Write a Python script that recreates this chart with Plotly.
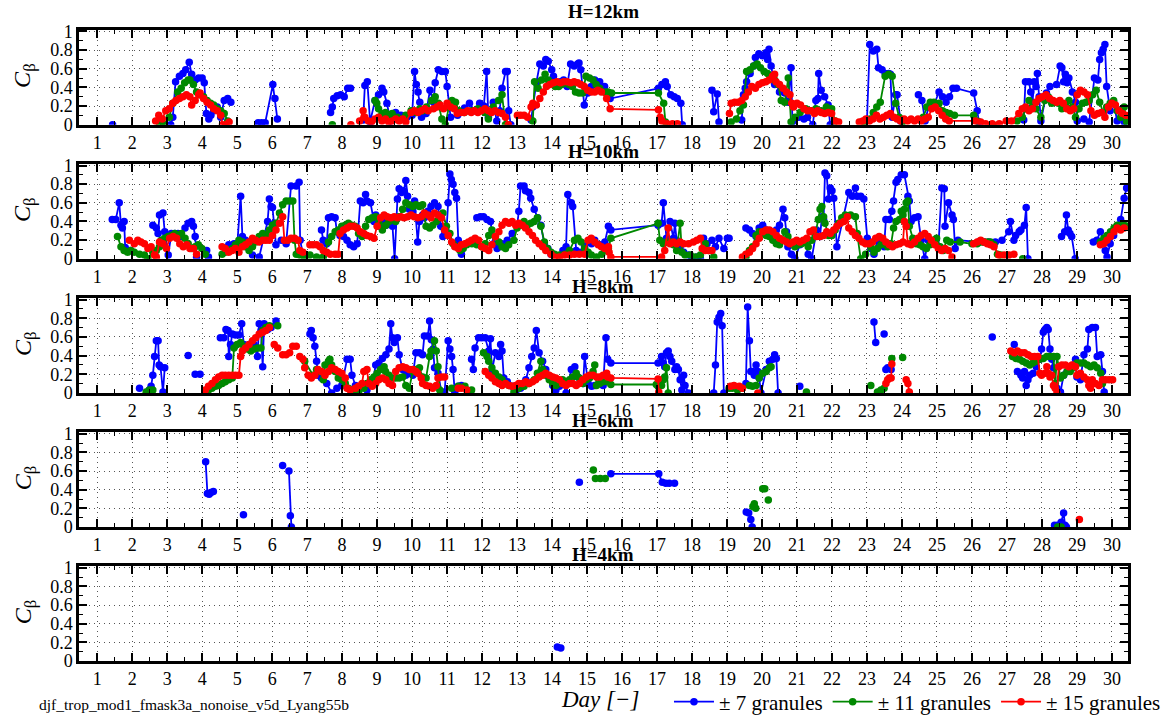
import plotly.graph_objects as go

# ---------------- data: (day, C_beta) pairs, None = break in the line ----------------
p1_blue = [(1.44,0.0), None,
 (3.1,0.0),(3.16,0.08),(3.24,0.46),(3.35,0.52),(3.45,0.55),(3.53,0.59),(3.63,0.67),(3.7,0.54),(3.8,0.48),(3.9,0.50),(4.0,0.50),(4.06,0.45),(4.12,0.12),(4.19,0.06),(4.25,0.10),(4.33,0.15),(4.43,0.19),(4.53,0.08),(4.63,0.26),(4.73,0.28),(4.82,0.24), None,
 (5.6,0.02),(5.7,0.02),(5.8,0.02),(6.02,0.43),(6.08,0.28),(6.15,0.06), None,
 (7.67,0.13),(7.72,0.19),(7.76,0.28),(7.86,0.31),(7.96,0.32),(8.06,0.30),(8.16,0.39),(8.24,0.39), None,
 (8.6,0.05),(8.65,0.42),(8.72,0.46),(8.8,0.03),(8.94,0.26),(9.04,0.32),(9.14,0.39),(9.19,0.35),(9.28,0.23),(9.38,0.04),(9.53,0.13),(9.68,0.10),(9.85,0.08),(10.0,0.1),(10.07,0.57),(10.12,0.43),(10.17,0.35),(10.22,0.24),(10.27,0.08),(10.4,0.12),(10.51,0.37),(10.61,0.24),(10.66,0.45),(10.75,0.59),(10.85,0.57),(10.95,0.57),(11.0,0.41),(11.1,0.08),(11.3,0.1),(11.5,0.18),(11.64,0.23),(11.78,0.15),(11.93,0.23),(12.05,0.2),(12.13,0.57),(12.18,0.08),(12.32,0.24),(12.42,0.04),(12.5,0.15),(12.57,0.39),(12.67,0.57),(12.72,0.57),(12.76,0.15),(12.82,0.0), None,
 (13.4,0.05),(13.45,0.19),(13.55,0.45),(13.65,0.65),(13.75,0.63),(13.82,0.70),(13.89,0.68),(13.99,0.59),(14.04,0.52),(14.14,0.45),(14.24,0.46),(14.33,0.48),(14.43,0.41),(14.53,0.65),(14.63,0.63),(14.73,0.65),(14.77,0.66),(14.82,0.59),(14.92,0.21),(15.02,0.34),(15.12,0.41),(15.22,0.48),(15.36,0.46),(15.5,0.41),(15.66,0.28),(17.04,0.39),(17.14,0.43),(17.24,0.46),(17.29,0.41),(17.39,0.32),(17.49,0.30),(17.58,0.28),(17.68,0.23),(17.72,0.0), None,
 (18.57,0.37),(18.62,0.14),(18.72,0.33),(18.77,0.03), None,
 (19.42,0.05),(19.47,0.32),(19.52,0.39),(19.56,0.46),(19.66,0.55),(19.76,0.63),(19.81,0.72),(19.91,0.76),(20.01,0.74),(20.11,0.77),(20.16,0.70),(20.2,0.81),(20.26,0.63),(20.36,0.43),(20.4,0.45),(20.5,0.35),(20.65,0.34),(20.75,0.24),(20.83,0.61),(20.87,0.03),(21.05,0.08),(21.2,0.06),(21.3,0.08),(21.45,0.0),(21.54,0.26),(21.6,0.28),(21.62,0.55),(21.69,0.37),(21.79,0.30),(21.89,0.21),(21.95,0.0), None,
 (23.0,0.05),(23.08,0.86),(23.18,0.79),(23.28,0.81),(23.33,0.61),(23.43,0.59),(23.52,0.55),(23.62,0.55),(23.67,0.54),(23.72,0.08),(23.82,0.32),(23.86,0.32),(23.96,0.04), None,
 (24.47,0.32),(24.57,0.26),(24.66,0.04),(24.76,0.19),(24.91,0.21),(25.06,0.35),(25.16,0.30),(25.26,0.24),(25.36,0.30),(25.46,0.39),(25.56,0.39),(26.05,0.34),(26.15,0.15),(26.2,0.03), None,
 (27.48,0.05),(27.53,0.46),(27.63,0.46),(27.68,0.35),(27.73,0.24),(27.78,0.46),(27.83,0.41),(27.87,0.55),(27.92,0.30),(27.97,0.04),(28.13,0.34),(28.23,0.41),(28.42,0.43),(28.52,0.63),(28.57,0.61),(28.62,0.46),(28.67,0.54),(28.72,0.45),(28.77,0.50),(28.87,0.35),(28.96,0.24),(29.01,0.04),(29.2,0.06),(29.35,0.03),(29.5,0.50),(29.6,0.48),(29.65,0.70),(29.7,0.77),(29.75,0.81),(29.8,0.86),(29.85,0.41),(29.95,0.15),(30.05,0.24),(30.15,0.04),(30.25,0.15),(30.35,0.03)]

p1_green = [
 (2.76,0.03),(2.9,0.0),(3.06,0.08),(3.16,0.23),(3.3,0.35),(3.4,0.39),(3.5,0.45),(3.6,0.48),(3.65,0.48),(3.75,0.43),(3.84,0.35),(3.94,0.32),(4.04,0.30),(4.14,0.26),(4.24,0.23),(4.33,0.21),(4.43,0.17),(4.53,0.15),(4.63,0.12),(4.73,0.04), None,
 (7.72,0.0), None,
 (8.94,0.26),(8.99,0.23),(9.04,0.17),(9.14,0.12),(9.24,0.13),(9.33,0.10),(9.43,0.12),(9.58,0.08),(9.73,0.06),(9.82,0.10),(9.97,0.15),(10.12,0.13),(10.22,0.17),(10.31,0.15),(10.41,0.19),(10.56,0.26),(10.66,0.30),(10.75,0.23),(10.85,0.06),(10.95,0.0),(11.05,0.19),(11.14,0.26),(11.24,0.24),(11.34,0.15),(11.49,0.13),(11.69,0.15),(11.88,0.17),(12.08,0.13),(12.18,0.06),(12.32,0.19),(12.47,0.26),(12.57,0.32),(12.67,0.0), None,
 (13.45,0.04),(13.5,0.46),(13.6,0.39),(13.7,0.48),(13.8,0.54),(13.89,0.48),(13.99,0.45),(14.09,0.41),(14.19,0.41),(14.28,0.43),(14.38,0.45),(14.48,0.43),(14.58,0.41),(14.67,0.35),(14.77,0.34),(14.87,0.34),(14.97,0.52),(15.07,0.50),(15.17,0.48),(15.26,0.43),(15.36,0.39),(15.5,0.35),(15.6,0.35),(15.7,0.34),(17.04,0.34),(17.19,0.23),(17.24,0.03), None,
 (19.12,0.03),(19.27,0.06),(19.37,0.15),(19.47,0.21),(19.56,0.57),(19.66,0.59),(19.76,0.63),(19.86,0.65),(19.96,0.61),(20.06,0.57),(20.16,0.55),(20.26,0.52),(20.36,0.48),(20.46,0.43),(20.55,0.26),(20.65,0.24),(20.75,0.50),(20.83,0.03),(20.95,0.08),(21.09,0.13),(21.25,0.17),(21.4,0.15),(21.54,0.17),(21.69,0.15),(21.84,0.19),(21.99,0.17),(22.09,0.04), None,
 (22.93,0.03),(23.08,0.06),(23.18,0.13),(23.28,0.19),(23.38,0.24),(23.52,0.52),(23.62,0.54),(23.72,0.52),(23.82,0.23),(23.92,0.08),(24.02,0.03), None,
 (24.61,0.08),(24.71,0.19),(24.81,0.24),(24.91,0.24),(25.06,0.23),(25.16,0.15),(25.26,0.13),(25.36,0.12),(25.5,0.10),(26.05,0.10),(26.15,0.04), None,
 (26.6,0.0), None,
 (27.29,0.04),(27.44,0.08),(27.53,0.17),(27.63,0.26),(27.73,0.19),(27.83,0.17),(27.97,0.08),(28.08,0.26),(28.18,0.30),(28.28,0.23),(28.37,0.24),(28.47,0.23),(28.57,0.17),(28.67,0.21),(28.77,0.26),(28.87,0.19),(28.96,0.08),(29.06,0.17),(29.16,0.23),(29.26,0.24),(29.35,0.26),(29.45,0.32),(29.55,0.37),(29.65,0.24),(29.75,0.13),(29.85,0.19),(29.95,0.23),(30.05,0.26),(30.15,0.15),(30.25,0.08),(30.35,0.19),(30.42,0.03)]

p1_red = [
 (2.67,0.04),(2.76,0.10),(2.86,0.06),(2.96,0.15),(3.06,0.17),(3.16,0.23),(3.25,0.26),(3.35,0.28),(3.45,0.30),(3.55,0.32),(3.65,0.30),(3.7,0.21),(3.8,0.26),(3.9,0.32),(3.94,0.34),(4.04,0.28),(4.14,0.24),(4.24,0.21),(4.33,0.17),(4.43,0.15),(4.53,0.10),(4.58,0.0),(4.68,0.0),(4.77,0.03), None,
 (8.25,0.0), None,
 (8.5,0.04),(8.6,0.15),(8.65,0.08),(8.75,0.04),(8.84,0.03),(8.94,0.06),(9.04,0.08),(9.14,0.04),(9.24,0.06),(9.33,0.03),(9.43,0.04),(9.53,0.06),(9.63,0.04),(9.73,0.06),(9.82,0.03),(9.97,0.13),(10.07,0.15),(10.17,0.13),(10.26,0.15),(10.36,0.17),(10.46,0.15),(10.61,0.17),(10.71,0.19),(10.8,0.21),(10.9,0.17),(11.0,0.23),(11.1,0.19),(11.2,0.17),(11.29,0.12),(11.39,0.13),(11.49,0.13),(11.59,0.15),(11.69,0.13),(11.78,0.15),(11.88,0.13),(11.98,0.15),(12.08,0.17),(12.18,0.15),(12.27,0.13),(12.37,0.15),(12.47,0.13),(12.57,0.12),(12.67,0.08),(12.75,0.0), None,
 (13.01,0.10),(13.1,0.10),(13.2,0.10),(13.3,0.08),(13.4,0.19),(13.45,0.23),(13.55,0.21),(13.65,0.28),(13.75,0.35),(13.84,0.41),(13.94,0.43),(14.04,0.45),(14.14,0.46),(14.24,0.45),(14.33,0.46),(14.43,0.46),(14.53,0.45),(14.63,0.46),(14.73,0.45),(14.82,0.43),(14.92,0.41),(15.02,0.37),(15.12,0.35),(15.22,0.35),(15.31,0.37),(15.41,0.35),(15.56,0.28),(15.66,0.17),(17.04,0.16),(17.09,0.08),(17.14,0.04),(17.29,0.01),(17.44,0.01),(17.58,0.01), None,
 (19.07,0.12),(19.12,0.23),(19.22,0.24),(19.32,0.24),(19.42,0.26),(19.52,0.30),(19.61,0.35),(19.71,0.41),(19.81,0.39),(19.91,0.43),(20.01,0.45),(20.11,0.46),(20.2,0.48),(20.3,0.52),(20.36,0.54),(20.4,0.46),(20.5,0.43),(20.6,0.39),(20.7,0.35),(20.8,0.32),(20.85,0.23),(20.9,0.19),(21.0,0.23),(21.1,0.21),(21.2,0.17),(21.3,0.15),(21.4,0.15),(21.5,0.12),(21.59,0.15),(21.69,0.13),(21.79,0.12),(21.89,0.13),(21.99,0.12),(22.09,0.04),(22.19,0.03), None,
 (22.78,0.03),(22.88,0.04),(22.97,0.06),(23.07,0.04),(23.17,0.06),(23.27,0.10),(23.37,0.06),(23.47,0.08),(23.57,0.10),(23.67,0.12),(23.77,0.08),(23.86,0.06),(23.96,0.04),(24.06,0.06),(24.16,0.04),(24.26,0.06),(24.36,0.04),(24.46,0.06),(24.55,0.04),(24.65,0.06),(24.75,0.08),(24.85,0.17),(24.95,0.19),(25.05,0.15),(25.15,0.10),(25.25,0.06),(25.35,0.04),(26.1,0.04),(26.25,0.03),(26.39,0.01),(26.58,0.01),(26.78,0.01),(26.98,0.04),(27.13,0.04),
 (27.34,0.12),(27.44,0.17),(27.53,0.19),(27.63,0.15),(27.73,0.17),(27.83,0.24),(27.92,0.28),(28.02,0.30),(28.12,0.32),(28.22,0.28),(28.32,0.26),(28.42,0.24),(28.51,0.26),(28.61,0.23),(28.71,0.17),(28.81,0.15),(28.91,0.17),(29.01,0.32),(29.1,0.37),(29.2,0.35),(29.3,0.32),(29.4,0.15),(29.5,0.10),(29.6,0.12),(29.7,0.13),(29.8,0.08),(29.9,0.19),(30.0,0.23),(30.1,0.21),(30.2,0.15),(30.3,0.12),(30.4,0.10)]

p2_blue = [
 (1.43,0.42),(1.53,0.42),(1.63,0.60),(1.68,0.36),(1.72,0.33),(1.77,0.40),(1.8,0.12),(1.9,0.09),(1.96,0.09), None,
 (2.59,0.36),(2.69,0.33),(2.74,0.27),(2.78,0.47),(2.88,0.49),(2.93,0.29),(3.03,0.04),(3.12,0.27),(3.22,0.27),(3.31,0.27),(3.41,0.24),(3.51,0.33),(3.6,0.38),(3.7,0.40),(3.75,0.35),(3.8,0.24),(3.84,0.02), None,
 (4.13,0.09),(4.18,0.02), None,
 (4.76,0.15),(4.91,0.16),(5.0,0.13),(5.1,0.67),(5.15,0.24),(5.24,0.2),(5.34,0.13),(5.44,0.04),(5.63,0.02),(5.77,0.25),(5.87,0.40),(5.92,0.64),(5.97,0.56),(6.01,0.55),(6.06,0.38),(6.11,0.15),(6.26,0.2),(6.4,0.16),(6.54,0.78),(6.69,0.78),(6.77,0.82),(6.8,0.2),(6.88,0.05), None,
 (7.41,0.31),(7.46,0.2),(7.56,0.16),(7.61,0.44),(7.7,0.45),(7.8,0.44),(7.85,0.29),(7.94,0.25),(8.04,0.24),(8.14,0.2),(8.23,0.15),(8.33,0.13),(8.43,0.16),(8.52,0.62),(8.6,0.60),(8.67,0.69),(8.71,0.62),(8.81,0.60),(8.91,0.40),(8.96,0.47),(9.05,0.35),(9.15,0.40),(9.25,0.36),(9.34,0.42),(9.44,0.35),(9.5,0.0),(9.58,0.64),(9.63,0.75),(9.7,0.71),(9.76,0.73),(9.82,0.84),(9.87,0.67),(9.92,0.53),(10.02,0.51),(10.07,0.62),(10.16,0.18),(10.21,0.40),(10.3,0.47),(10.35,0.44),(10.45,0.51),(10.54,0.56),(10.64,0.60),(10.74,0.56),(10.82,0.35),(10.88,0.24),(10.98,0.29),(11.03,0.60),(11.08,0.91),(11.12,0.85),(11.17,0.80),(11.22,0.71),(11.27,0.65),(11.32,0.2),(11.41,0.05), None,
 (11.85,0.44),(11.95,0.45),(12.04,0.45),(12.14,0.42),(12.24,0.40),(12.33,0.16),(12.43,0.11),(12.57,0.16),(12.72,0.2),(12.86,0.27),(13.0,0.35),(13.05,0.51),(13.1,0.78),(13.2,0.78),(13.24,0.73),(13.34,0.71),(13.39,0.65),(13.49,0.53),(13.59,0.44),(13.68,0.36),(13.78,0.16),(13.88,0.11),(13.97,0.05), None,
 (14.31,0.09),(14.4,0.13),(14.45,0.69),(14.55,0.60),(14.59,0.56),(14.69,0.09),(14.84,0.07),(14.93,0.13),(15.03,0.18),(15.13,0.16),(15.22,0.2),(15.37,0.15),(15.51,0.18),(15.61,0.35),(15.68,0.31),(17.03,0.36),(17.13,0.38),(17.18,0.60),(17.27,0.22),(17.37,0.40),(17.47,0.22),(17.51,0.38),(17.56,0.20),(17.66,0.13),(17.76,0.07),(17.9,0.04),(18.0,0.0),(18.14,0.02),(18.24,0.0),(18.33,0.22),(18.43,0.16),(18.57,0.2),(18.67,0.13),(18.77,0.22),(18.91,0.11),(19.01,0.22),(19.06,0.22), None,
 (19.54,0.33),(19.64,0.31),(19.73,0.27),(19.83,0.24),(19.92,0.33),(20.02,0.36),(20.12,0.31),(20.21,0.25),(20.31,0.27),(20.41,0.31),(20.5,0.36),(20.6,0.53),(20.65,0.44),(20.7,0.29),(20.74,0.13),(20.84,0.05),(20.94,0.0),(21.08,0.15),(21.23,0.18),(21.32,0.05),(21.42,0.0),(21.56,0.31),(21.66,0.24),(21.71,0.45),(21.76,0.42),(21.8,0.92),(21.85,0.89),(21.9,0.64),(21.95,0.76),(22.0,0.73),(22.05,0.65),(22.14,0.13),
 (22.48,0.71),(22.58,0.67),(22.67,0.76),(22.72,0.67),(22.82,0.67),(22.91,0.64),(23.01,0.22),(23.11,0.11),(23.2,0.05),(23.3,0.2),(23.4,0.16),(23.49,0.13),(23.54,0.42),(23.64,0.42),(23.71,0.51),(23.76,0.62),(23.83,0.82),(23.88,0.85),(23.98,0.90),(24.07,0.90),(24.17,0.67),(24.21,0.62),(24.26,0.40),(24.36,0.44),(24.46,0.45),(24.55,0.2),(24.65,0.0),(24.75,0.2),(24.89,0.18),(25.04,0.13),(25.14,0.76),(25.21,0.75),(25.23,0.35),(25.33,0.60),(25.43,0.47),(25.47,0.42),(25.52,0.11),
 (25.6,0.2),(26.19,0.18),(26.34,0.18),(26.48,0.18),(26.67,0.18),(26.86,0.2),(27.05,0.29),(27.1,0.40),(27.2,0.2),(27.25,0.25),(27.35,0.29),(27.4,0.31),(27.5,0.36),(27.55,0.55),(27.6,0.0), None,
 (28.56,0.24),(28.65,0.29),(28.7,0.47),(28.75,0.31),(28.8,0.27),(28.85,0.24),(28.95,0.0), None,
 (29.47,0.18),(29.57,0.2),(29.67,0.29),(29.77,0.2),(29.81,0.09),(29.86,0.02),(29.95,0.16),(30.05,0.25),(30.15,0.33),(30.25,0.42),(30.35,0.65),(30.42,0.76)]

p2_green = [
 (1.58,0.24),(1.68,0.13),(1.77,0.09),(1.87,0.07),(1.96,0.09),(2.06,0.07),(2.21,0.05),(2.35,0.04),(2.45,0.0),(2.59,0.07),(2.69,0.09),(2.78,0.13),(2.83,0.2),(2.93,0.22),(3.03,0.24),(3.12,0.25),(3.22,0.27),(3.31,0.24),(3.41,0.27),(3.51,0.22),(3.6,0.16),(3.7,0.11),(3.8,0.13),(3.89,0.15),(3.99,0.11),(4.09,0.05), None,
 (4.57,0.05),(4.66,0.07),(4.76,0.09),(4.86,0.11),(4.95,0.15),(5.05,0.2),(5.15,0.18),(5.24,0.13),(5.34,0.09),(5.44,0.13),(5.53,0.18),(5.63,0.24),(5.73,0.27),(5.82,0.25),(5.92,0.31),(6.01,0.36),(6.11,0.38),(6.21,0.49),(6.3,0.58),(6.4,0.62),(6.5,0.62),(6.59,0.62),(6.64,0.2),(6.69,0.05),(6.79,0.04),(6.93,0.02),(7.08,0.04),(7.27,0.02),(7.46,0.02),(7.61,0.18),(7.7,0.24),(7.8,0.29),(7.89,0.31),(7.99,0.35),(8.09,0.36),(8.18,0.38),(8.28,0.36),(8.37,0.35),(8.47,0.27),(8.57,0.24),(8.67,0.35),(8.76,0.42),(8.86,0.44),(8.96,0.45),(9.05,0.38),(9.15,0.31),(9.25,0.36),(9.34,0.40),(9.44,0.42),(9.53,0.40),(9.63,0.45),(9.73,0.53),(9.82,0.60),(9.92,0.58),(10.02,0.56),(10.11,0.58),(10.21,0.56),(10.3,0.58),(10.4,0.35),(10.5,0.33),(10.59,0.36),(10.69,0.40),(10.79,0.44),(10.88,0.49),(10.98,0.35),(11.08,0.27),(11.17,0.16),(11.27,0.13),(11.37,0.09),(11.46,0.11),(11.56,0.15),(11.71,0.16),(11.85,0.15),(11.99,0.13),(12.09,0.16),(12.19,0.25),(12.28,0.31),(12.38,0.24),(12.48,0.18),(12.57,0.13),(12.67,0.11),(12.76,0.15),(12.91,0.2),(13.0,0.33),(13.1,0.36),(13.2,0.40),(13.29,0.36),(13.39,0.38),(13.49,0.40),(13.58,0.44),(13.68,0.35),(13.78,0.18),(13.87,0.11),(13.97,0.07),(14.07,0.05),(14.21,0.04),(14.36,0.05),(14.5,0.09),(14.64,0.2),(14.74,0.22),(14.83,0.18),(14.93,0.11),(15.03,0.07),(15.12,0.04),(15.27,0.02),(15.42,0.05),(15.51,0.09),(15.61,0.11),(15.68,0.22),(17.03,0.38),(17.08,0.2),(17.18,0.16),(17.27,0.18),(17.37,0.18),(17.47,0.15),(17.56,0.09),(17.66,0.38),(17.71,0.07),(17.8,0.04),(17.95,0.04),(18.09,0.02),(18.24,0.04),(18.38,0.16),(18.48,0.09),(18.62,0.02), None,
 (19.54,0.02),(19.64,0.09),(19.73,0.13),(19.83,0.25),(19.92,0.29),(20.02,0.27),(20.12,0.25),(20.21,0.24),(20.31,0.2),(20.41,0.16),(20.5,0.15),(20.65,0.29),(20.74,0.24),(20.84,0.16),(20.94,0.13),(21.03,0.15),(21.13,0.16),(21.23,0.18),(21.32,0.13),(21.42,0.2),(21.52,0.25),(21.61,0.42),(21.66,0.53),(21.71,0.56),(21.76,0.45),(21.8,0.38),(21.9,0.25),(22.0,0.25),(22.09,0.31),(22.19,0.38),(22.28,0.44),(22.38,0.47),(22.53,0.47),(22.67,0.45),(22.72,0.27),(22.82,0.0),(22.96,0.05),(23.11,0.13),(23.2,0.07),(23.3,0.11),(23.4,0.15),(23.49,0.16),(23.59,0.13),(23.69,0.16),(23.76,0.33),(23.83,0.40),(23.93,0.42),(23.98,0.51),(24.03,0.47),(24.07,0.53),(24.12,0.60),(24.17,0.62),(24.21,0.35),(24.31,0.22),(24.41,0.16),(24.51,0.15),(24.6,0.13),(24.7,0.11),(24.8,0.15),(24.89,0.2),(24.99,0.22),(25.09,0.13),(25.18,0.09),(25.28,0.2),(25.38,0.18),(25.66,0.18),(26.0,0.16),(26.15,0.16),(26.25,0.18),(26.34,0.18),(26.44,0.18),(26.53,0.18),(26.63,0.15),(26.73,0.05),(26.82,0.04), None,
 (27.45,0.0), None,
 (29.67,0.18),(29.77,0.22),(29.86,0.25),(29.96,0.29),(30.06,0.33),(30.15,0.36),(30.25,0.36),(30.35,0.36),(30.42,0.35)]

p2_red = [
 (1.92,0.2),(2.06,0.16),(2.16,0.2),(2.25,0.18),(2.35,0.16),(2.45,0.11),(2.54,0.13),(2.64,0.04),(2.69,0.02),(2.78,0.18),(2.88,0.16),(2.98,0.11),(3.07,0.22),(3.17,0.24),(3.27,0.22),(3.36,0.16),(3.46,0.13),(3.56,0.15),(3.65,0.11),(3.75,0.11),(3.84,0.05), None,
 (4.57,0.13),(4.66,0.11),(4.76,0.07),(4.86,0.09),(4.95,0.11),(5.05,0.07),(5.15,0.13),(5.24,0.15),(5.34,0.18),(5.44,0.22),(5.53,0.2),(5.63,0.18),(5.73,0.2),(5.82,0.2),(5.92,0.2),(6.01,0.25),(6.11,0.31),(6.21,0.38),(6.3,0.45),(6.35,0.2),(6.45,0.2),(6.54,0.22),(6.64,0.22),(6.74,0.2),(6.79,0.09),(6.88,0.07), None,
 (7.08,0.15),(7.17,0.15),(7.27,0.15),(7.37,0.13),(7.46,0.09),(7.56,0.07),(7.66,0.05),(7.8,0.05),(7.89,0.05),(7.94,0.27),(8.04,0.31),(8.14,0.33),(8.23,0.35),(8.33,0.35),(8.43,0.33),(8.52,0.29),(8.62,0.27),(8.71,0.25),(8.81,0.24),(8.91,0.22),(9.0,0.35),(9.1,0.44),(9.2,0.47),(9.29,0.45),(9.39,0.44),(9.49,0.45),(9.58,0.44),(9.68,0.45),(9.77,0.44),(9.87,0.45),(9.97,0.47),(10.06,0.45),(10.16,0.44),(10.26,0.45),(10.35,0.49),(10.45,0.47),(10.54,0.44),(10.64,0.49),(10.74,0.47),(10.84,0.44),(10.93,0.31),(11.03,0.25),(11.13,0.18),(11.22,0.13),(11.32,0.11),(11.41,0.15),(11.51,0.16),(11.61,0.18),(11.7,0.2),(11.8,0.22),(11.9,0.2),(11.99,0.13),(12.09,0.11),(12.19,0.09),(12.28,0.15),(12.38,0.24),(12.48,0.29),(12.57,0.36),(12.67,0.40),(12.77,0.38),(12.86,0.40),(12.96,0.36),(13.05,0.38),(13.15,0.36),(13.24,0.33),(13.34,0.29),(13.44,0.25),(13.53,0.2),(13.63,0.16),(13.73,0.13),(13.82,0.09),(13.97,0.05),(14.07,0.02),(14.21,0.02),(14.36,0.04),(14.5,0.04),(14.64,0.05),(14.78,0.05),(14.93,0.05),(15.03,0.2),(15.12,0.22),(15.22,0.18),(15.32,0.15),(15.41,0.13),(15.51,0.11),(15.61,0.13),(15.63,0.07),(15.68,0.02),(17.13,0.02),(17.22,0.09),(17.32,0.33),(17.37,0.16),(17.47,0.18),(17.56,0.16),(17.66,0.18),(17.76,0.16),(17.9,0.16),(18.04,0.18),(18.14,0.2),(18.24,0.22),(18.29,0.11),(18.38,0.09),(18.48,0.09),(18.57,0.09), None,
 (19.44,0.02),(19.54,0.05),(19.64,0.07),(19.73,0.11),(19.83,0.16),(19.92,0.22),(20.02,0.29),(20.12,0.31),(20.21,0.31),(20.31,0.29),(20.41,0.25),(20.5,0.22),(20.6,0.2),(20.7,0.18),(20.79,0.16),(20.89,0.18),(20.99,0.2),(21.08,0.18),(21.18,0.2),(21.28,0.22),(21.37,0.29),(21.47,0.31),(21.56,0.24),(21.66,0.24),(21.76,0.25),(21.85,0.29),(21.95,0.27),(22.05,0.31),(22.14,0.35),(22.24,0.38),(22.34,0.40),(22.44,0.45),(22.48,0.33),(22.58,0.29),(22.67,0.25),(22.77,0.22),(22.87,0.18),(22.96,0.16),(23.06,0.16),(23.16,0.18),(23.25,0.22),(23.35,0.24),(23.45,0.22),(23.54,0.18),(23.64,0.15),(23.73,0.13),(23.83,0.15),(23.93,0.16),(24.03,0.18),(24.07,0.40),(24.12,0.35),(24.17,0.16),(24.26,0.15),(24.36,0.18),(24.46,0.22),(24.55,0.25),(24.65,0.27),(24.75,0.24),(24.84,0.2),(24.94,0.15),(25.04,0.11),(25.13,0.09),(25.23,0.11),(25.33,0.09),(25.43,0.02), None,
 (26.05,0.16),(26.15,0.18),(26.25,0.2),(26.34,0.18),(26.44,0.16),(26.53,0.15),(26.63,0.13),(26.77,0.04),(26.92,0.04),(27.06,0.04),(27.2,0.05), None,
 (29.67,0.15),(29.77,0.16),(29.86,0.2),(29.96,0.24),(30.06,0.29),(30.15,0.33),(30.25,0.31),(30.35,0.33)]

p3_blue = [(2.21,0.05), None,
 (2.49,0.03),(2.54,0.07),(2.59,0.19),(2.64,0.39),(2.69,0.56),(2.74,0.56),(2.77,0.30),(2.81,0.28),(2.88,0.01),(2.93,0.27), None,
 (3.6,0.40), None, (3.8,0.20),(3.94,0.20), None,
 (4.52,0.59),(4.62,0.59),(4.68,0.68),(4.74,0.67),(4.76,0.39),(4.81,0.52),(4.86,0.63),(4.95,0.62),(5.05,0.62),(5.13,0.74),(5.19,0.52),(5.24,0.48),(5.34,0.52),(5.44,0.54),(5.48,0.52),(5.58,0.39),(5.63,0.74),(5.68,0.67),(5.73,0.28),(5.77,0.74),(5.87,0.68),(5.97,0.70),(6.11,0.77), None,
 (7.08,0.63),(7.12,0.67),(7.17,0.59),(7.22,0.50),(7.27,0.34),(7.31,0.19),(7.41,0.16),(7.56,0.10),(7.7,0.0),(7.85,0.05),(7.99,0.08),(8.14,0.36),(8.23,0.36),(8.28,0.19),(8.38,0.08),(8.52,0.05),(8.71,0.03),(8.86,0.08),(8.96,0.30),(9.05,0.32),(9.15,0.37),(9.25,0.41),(9.34,0.47),(9.39,0.74),(9.44,0.59),(9.49,0.54),(9.58,0.59),(9.63,0.41),(9.73,0.25),(9.82,0.19),(9.92,0.21),(10.02,0.19),(10.11,0.43),(10.21,0.43),(10.3,0.41),(10.35,0.61),(10.45,0.61),(10.5,0.77),(10.55,0.57),(10.6,0.47),(10.64,0.27),(10.74,0.21),(10.84,0.01),(10.93,0.01),(11.03,0.56),(11.08,0.47),(11.13,0.39),(11.17,0.25),(11.22,0.01),(11.32,0.07),(11.41,0.08), None,
 (11.7,0.36),(11.75,0.25),(11.8,0.48),(11.9,0.59),(11.99,0.59),(12.09,0.59),(12.19,0.45),(12.24,0.58),(12.28,0.23),(12.38,0.43),(12.48,0.39),(12.53,0.52),(12.57,0.45),(12.62,0.16),(12.72,0.12),(12.86,0.07),(12.96,0.01),(13.1,0.05),(13.25,0.14),(13.34,0.27),(13.42,0.39),(13.49,0.48),(13.55,0.67),(13.63,0.43),(13.73,0.34),(13.82,0.25),(13.92,0.16),(14.02,0.08),(14.11,0.03),(14.21,0.07),(14.3,0.12),(14.4,0.0),(14.55,0.25),(14.65,0.28),(14.74,0.17),(14.89,0.10),(14.93,0.39),(15.03,0.10),(15.13,0.07),(15.22,0.08),(15.37,0.10),(15.46,0.08),(15.54,0.59),(15.59,0.36),(15.68,0.32),(17.03,0.32),(17.13,0.39),(17.18,0.32),(17.22,0.28),(17.27,0.43),(17.32,0.45),(17.37,0.39),(17.42,0.34),(17.51,0.25),(17.56,0.28),(17.61,0.25),(17.66,0.14),(17.71,0.03),(17.76,0.19),(17.8,0.08),(17.9,0.0), None,
 (18.62,0.0),(18.67,0.30),(18.72,0.76),(18.77,0.81),(18.82,0.85),(18.86,0.72),(18.91,0.0), None,
 (19.54,0.1),(19.59,0.92),(19.64,0.56),(19.68,0.23),(19.73,0.23),(19.78,0.19),(19.83,0.30),(19.88,0.23),(19.92,0.16),(19.97,0.0),(20.12,0.25),(20.21,0.34),(20.31,0.36),(20.36,0.41),(20.41,0.37),(20.46,0.0), None,
 (21.08,0.07), None, (23.2,0.76),(23.25,0.54), None, (23.49,0.63), None,
 (23.54,0.25),(23.59,0.27),(23.69,0.25), None, (26.58,0.60), None, (27.21,0.52), None,
 (27.3,0.23),(27.4,0.19),(27.45,0.16),(27.5,0.23),(27.55,0.08),(27.6,0.14),(27.65,0.19),(27.75,0.21),(27.84,0.28),(27.94,0.36),(27.99,0.47),(28.04,0.65),(28.09,0.68),(28.14,0.70),(28.18,0.68),(28.23,0.47),(28.28,0.36),(28.33,0.27),(28.43,0.05),(28.53,0.01),(28.62,0.19),(28.72,0.23),(28.81,0.27),(28.91,0.30),(28.96,0.36),(29.0,0.17),(29.1,0.14),(29.2,0.41),(29.3,0.47),(29.34,0.68),(29.44,0.70),(29.53,0.70),(29.58,0.39),(29.68,0.41),(29.73,0.23),(29.78,0.01)]

p3_green = [
 (2.4,0.01),(2.49,0.03),(2.59,0.03), None,
 (4.09,0.01),(4.18,0.03),(4.28,0.05),(4.38,0.07),(4.47,0.08),(4.57,0.10),(4.66,0.12),(4.76,0.14),(4.86,0.16),(4.91,0.48),(5.0,0.52),(5.1,0.54),(5.19,0.50),(5.29,0.47),(5.39,0.45),(5.48,0.47),(5.58,0.48),(5.68,0.48),(5.73,0.67),(5.82,0.70),(5.92,0.72),(6.16,0.72), None,
 (6.93,0.34),(7.17,0.19),(7.27,0.25),(7.36,0.23),(7.46,0.14),(7.51,0.30),(7.61,0.34),(7.65,0.36),(7.7,0.30),(7.8,0.23),(7.89,0.16),(7.99,0.14),(8.09,0.10),(8.18,0.05),(8.33,0.03),(8.47,0.01),(8.62,0.05),(8.71,0.10),(8.81,0.14),(8.91,0.17),(9.0,0.21),(9.1,0.25),(9.2,0.28),(9.24,0.23),(9.34,0.19),(9.44,0.16),(9.53,0.16),(9.63,0.16),(9.73,0.17),(9.82,0.08),(9.92,0.05),(10.02,0.23),(10.11,0.25),(10.21,0.27),(10.3,0.17),(10.4,0.16),(10.5,0.39),(10.54,0.45),(10.64,0.56),(10.69,0.45),(10.74,0.28),(10.79,0.03), None,
 (11.13,0.05),(11.32,0.07),(11.51,0.07),(11.7,0.03), None,
 (12.04,0.43),(12.14,0.39),(12.19,0.34),(12.28,0.27),(12.38,0.21),(12.48,0.17),(12.57,0.14),(12.67,0.10),(12.77,0.08),(12.91,0.01),(13.05,0.05),(13.2,0.07),(13.34,0.10),(13.49,0.14),(13.58,0.21),(13.68,0.34),(13.73,0.25),(13.82,0.19),(13.92,0.14),(14.02,0.10),(14.11,0.08),(14.21,0.10),(14.3,0.14),(14.4,0.12),(14.5,0.14),(14.59,0.17),(14.69,0.21),(14.78,0.16),(14.88,0.10),(14.98,0.14),(15.07,0.16),(15.17,0.23),(15.22,0.30),(15.27,0.08),(15.36,0.10),(15.46,0.12),(15.56,0.16),(15.59,0.12),(15.68,0.09),(16.98,0.09),(17.03,0.07),(17.13,0.08),(17.18,0.14),(17.22,0.17),(17.27,0.27),(17.32,0.0), None,
 (19.06,0.05),(19.15,0.05),(19.3,0.03),(19.44,0.05),(19.64,0.08),(19.73,0.07),(19.83,0.08),(19.92,0.16),(20.02,0.21),(20.12,0.23),(20.21,0.27),(20.26,0.28), None,
 (21.27,0.01), None, (23.11,0.08), None, (23.3,0.01),(23.4,0.03),(23.49,0.05), None,
 (23.71,0.37), None, (24.02,0.38), None,
 (27.16,0.39),(27.26,0.37),(27.36,0.36),(27.45,0.34),(27.55,0.32),(27.65,0.30),(27.74,0.32),(27.84,0.34),(27.94,0.36),(28.04,0.37),(28.14,0.39),(28.23,0.39),(28.33,0.39),(28.38,0.10),(28.43,0.39),(28.53,0.16),(28.62,0.19),(28.72,0.23),(28.81,0.23),(28.91,0.27),(29.0,0.32),(29.1,0.32),(29.2,0.32),(29.3,0.30),(29.39,0.28),(29.49,0.30),(29.58,0.27),(29.68,0.21),(29.73,0.10)]

p3_red = [
 (4.09,0.03),(4.18,0.07),(4.28,0.10),(4.38,0.14),(4.47,0.17),(4.57,0.19),(4.66,0.19),(4.76,0.19),(4.86,0.19),(4.95,0.19),(5.05,0.19),(5.1,0.39),(5.15,0.45),(5.24,0.48),(5.34,0.52),(5.44,0.56),(5.53,0.59),(5.63,0.63),(5.73,0.65),(5.82,0.67),(5.92,0.70), None,
 (6.06,0.52),(6.16,0.48), None, (6.3,0.41),(6.4,0.41),(6.5,0.43), None, (6.59,0.50),(6.69,0.50), None,
 (6.79,0.39),(6.88,0.36),(6.93,0.27),(7.03,0.19),(7.12,0.16),(7.22,0.19),(7.31,0.25),(7.41,0.23),(7.51,0.19),(7.61,0.23),(7.7,0.27),(7.8,0.25),(7.89,0.23),(7.99,0.21),(8.09,0.16),(8.14,0.05),(8.23,0.03),(8.38,0.05),(8.47,0.07),(8.57,0.10),(8.62,0.23),(8.71,0.25),(8.76,0.10),(8.86,0.07),(8.96,0.10),(9.05,0.14),(9.15,0.16),(9.25,0.14),(9.34,0.10),(9.44,0.08),(9.53,0.23),(9.63,0.27),(9.73,0.28),(9.82,0.27),(9.92,0.25),(10.02,0.25),(10.11,0.23),(10.16,0.21),(10.26,0.16),(10.3,0.10),(10.4,0.08),(10.5,0.07),(10.59,0.05),(10.69,0.08),(10.74,0.16),(10.84,0.17),(10.93,0.17), None,
 (11.32,0.05),(11.41,0.05),(11.56,0.03), None,
 (12.09,0.23),(12.19,0.19),(12.28,0.16),(12.38,0.12),(12.48,0.10),(12.57,0.08),(12.67,0.10),(12.77,0.08),(12.86,0.07),(12.96,0.08),(13.05,0.10),(13.15,0.10),(13.25,0.12),(13.34,0.10),(13.44,0.12),(13.53,0.14),(13.63,0.17),(13.73,0.19),(13.82,0.21),(13.92,0.19),(14.02,0.17),(14.11,0.16),(14.21,0.14),(14.3,0.10),(14.4,0.08),(14.5,0.10),(14.59,0.10),(14.69,0.08),(14.78,0.10),(14.88,0.14),(14.98,0.17),(15.07,0.19),(15.17,0.19),(15.27,0.17),(15.36,0.17),(15.46,0.19),(15.56,0.21),(15.59,0.17),(15.68,0.16),(17.03,0.15),(17.05,0.01), None,
 (19.1,0.07),(19.2,0.08),(19.35,0.07),(19.44,0.05), None, (19.88,0.0), None,
 (23.54,0.10),(23.59,0.14),(23.64,0.16),(23.69,0.16),(23.71,0.31), None,
 (24.12,0.14),(24.17,0.10),(24.21,0.01), None,
 (27.11,0.45),(27.21,0.43),(27.3,0.45),(27.4,0.43),(27.5,0.43),(27.6,0.41),(27.69,0.39),(27.79,0.39),(27.88,0.39),(27.94,0.21),(27.99,0.19),(28.09,0.21),(28.14,0.28),(28.18,0.21),(28.23,0.17),(28.28,0.19),(28.33,0.08),(28.38,0.05),(28.43,0.0),(28.48,0.28),(28.57,0.30),(28.67,0.30),(28.77,0.28),(28.86,0.30),(28.96,0.28),(29.0,0.19),(29.1,0.21),(29.2,0.17),(29.3,0.14),(29.34,0.08),(29.39,0.05),(29.44,0.14),(29.53,0.10),(29.63,0.08),(29.73,0.14),(29.82,0.14),(29.92,0.14),(30.02,0.14)]

p4_blue = [(4.1,0.70),(4.15,0.36),(4.2,0.35),(4.25,0.37),(4.32,0.38), None,
 (5.18,0.13), None, (6.3,0.66), None, (6.48,0.60),(6.52,0.12),(6.55,0.0), None,
 (14.78,0.48), None,
 (15.68,0.57),(17.05,0.57),(17.15,0.48),(17.25,0.47),(17.35,0.47),(17.5,0.47), None,
 (19.55,0.16),(19.62,0.15),(19.68,0.08),(19.72,0.0), None,
 (28.36,0.02),(28.45,0.02),(28.55,0.05),(28.62,0.15),(28.66,0.02),(28.7,0.0)]
p4_green = [(15.18,0.61), None, (15.24,0.52),(15.38,0.52),(15.52,0.52), None,
 (19.74,0.22),(19.78,0.25),(19.82,0.20), None, (20.02,0.41),(20.08,0.41), None, (20.18,0.29), None,
 (28.45,0.0),(28.55,0.0)]
p4_red = [(29.07,0.08)]

p5_blue = [(14.15,0.15),(14.25,0.14)]
p5_green = []
p5_red = []

panel_titles = ["H=12km", "H=10km", "H=8km", "H=6km", "H=4km"]
series_names = ["\u00b1 7 granules", "\u00b1 11 granules", "\u00b1 15 granules"]
series_colors = ["#0000ff", "#008800", "#ff0000"]
y_tickvals = [0, 0.2, 0.4, 0.6, 0.8, 1.0]
y_ticktext = ["0", "0.2", "0.4", "0.6", "0.8", "1"]
day_ticks = list(range(1, 31))

panels = [
    [p1_blue, p1_green, p1_red],
    [p2_blue, p2_green, p2_red],
    [p3_blue, p3_green, p3_red],
    [p4_blue, p4_green, p4_red],
    [p5_blue, p5_green, p5_red],
]

# ---------------- layout geometry (pixels) ----------------
W, H = 1163, 716
PL, PR, PT, PB = 78.5, 1128.0, 30.0, 661.0
PH = 94.7
tops = [30.0, 164.1, 298.2, 432.3, 566.3]
title_y = [12, 152, 286, 420, 554]


def ypaper(py):
    return (PB - py) / (PB - PT)


def xpaper(px):
    return (px - PL) / (PR - PL)


def unzip(pts):
    xs, ys = [], []
    for p in pts:
        if p is None:
            xs.append(None)
            ys.append(None)
        else:
            xs.append(p[0])
            ys.append(p[1])
    return xs, ys


FONT = "Liberation Serif"
fig = go.Figure()

for i, series in enumerate(panels):
    ax = "" if i == 0 else str(i + 1)
    for j, pts in enumerate(series):
        xs, ys = unzip(pts)
        fig.add_trace(go.Scatter(
            x=xs, y=ys, mode="lines+markers", name=series_names[j],
            xaxis="x" + ax, yaxis="y" + ax,
            line=dict(color=series_colors[j], width=1.8),
            marker=dict(color=series_colors[j], size=7.5),
            connectgaps=False, showlegend=(i == 0), legendgroup=str(j),
            hoverinfo="skip"))

annotations = []
for i in range(5):
    ax = "" if i == 0 else str(i + 1)
    top = tops[i]
    dom = [ypaper(top + PH), ypaper(top)]
    fig.layout["xaxis" + ax] = dict(
        domain=[0, 1], anchor="y" + ax, range=[0.48, 30.46],
        tickmode="array", tickvals=day_ticks, ticks="inside", ticklen=8, tickwidth=1.5,
        tickcolor="black", mirror="allticks", showline=True, linecolor="black", linewidth=2.5,
        showgrid=True, gridcolor="#555555", griddash="1px,4px", gridwidth=1,
        zeroline=False, tickfont=dict(family=FONT, size=18, color="black"),
        minor=dict(tickvals=[d + 0.5 for d in range(0, 31)], ticks="inside", ticklen=4,
                   tickwidth=1.2, tickcolor="black", showgrid=False),
        fixedrange=True)
    fig.layout["yaxis" + ax] = dict(
        domain=dom, anchor="x" + ax, range=[0, 1.015],
        tickmode="array", tickvals=y_tickvals, ticktext=y_ticktext,
        ticks="inside", ticklen=8, tickwidth=1.5, tickcolor="black", mirror="allticks",
        showline=True, linecolor="black", linewidth=2.5,
        showgrid=True, gridcolor="#555555", griddash="1px,4px", gridwidth=1,
        zeroline=False, tickfont=dict(family=FONT, size=18, color="black"),
        minor=dict(tickvals=[0.1, 0.3, 0.5, 0.7, 0.9], ticks="inside", ticklen=4,
                   tickwidth=1.2, tickcolor="black", showgrid=False),
        fixedrange=True)
    annotations.append(dict(
        text="<b>" + panel_titles[i] + "</b>", xref="paper", yref="paper",
        x=xpaper(603), y=ypaper(title_y[i]), xanchor="center", yanchor="middle",
        showarrow=False, font=dict(family=FONT, size=19, color="black")))
    annotations.append(dict(
        text="<i>C</i><sub>\u03b2</sub>", xref="paper", yref="paper",
        x=xpaper(24), y=ypaper(top + PH / 2 - 2), xanchor="center", yanchor="middle",
        textangle=-90, showarrow=False, font=dict(family=FONT, size=24, color="black")))

annotations.append(dict(
    text="<i>Day [\u2212]</i>", xref="paper", yref="paper",
    x=xpaper(600), y=ypaper(699), xanchor="center", yanchor="middle",
    showarrow=False, font=dict(family=FONT, size=23, color="black")))
annotations.append(dict(
    text="djf_trop_mod1_fmask3a_nonoise_v5d_Lyang55b", xref="paper", yref="paper",
    x=xpaper(36), y=ypaper(704), xanchor="left", yanchor="middle",
    showarrow=False, font=dict(family=FONT, size=15.5, color="black")))

fig.update_layout(
    width=W, height=H,
    margin=dict(l=PL, r=W - PR, t=PT, b=H - PB, pad=0, autoexpand=False),
    paper_bgcolor="white", plot_bgcolor="white",
    annotations=annotations,
    showlegend=True,
    legend=dict(orientation="h", x=xpaper(1166), xanchor="right",
                y=ypaper(702), yanchor="middle", bgcolor="rgba(0,0,0,0)",
                font=dict(family=FONT, size=21, color="black"),
                itemwidth=40, tracegroupgap=0),
    font=dict(family=FONT, color="black"),
)

fig.write_html("out.html")
